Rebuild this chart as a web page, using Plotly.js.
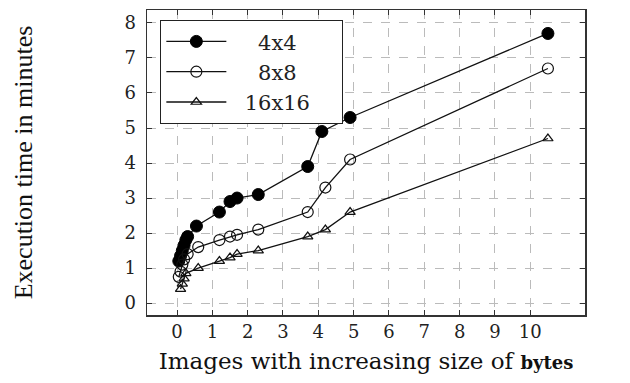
<!DOCTYPE html>
<html>
<head>
<meta charset="utf-8">
<script src="https://cdn.plot.ly/plotly-3.0.1.min.js"></script>
<style>html,body{margin:0;padding:0;background:#fff;}#chart{width:630px;height:383px;}</style>
</head>
<body>
<div id="chart"></div>
<script>
const seriesNames = ["\u00a0\u00a0\u00a0\u00a04x4", "\u00a0\u00a0\u00a0\u00a08x8", "\u00a0\u00a016x16\u00a0\u00a0\u00a0\u00a0"];
const x4 = [0.05, 0.1, 0.15, 0.2, 0.25, 0.3, 0.55, 1.2, 1.5, 1.7, 2.3, 3.7, 4.1, 4.9, 10.5];
const y4 = [1.2, 1.35, 1.5, 1.65, 1.8, 1.9, 2.2, 2.6, 2.9, 3.0, 3.1, 3.9, 4.9, 5.3, 7.7];
const x8 = [0.05, 0.1, 0.15, 0.2, 0.3, 0.6, 1.2, 1.5, 1.7, 2.3, 3.7, 4.2, 4.9, 10.5];
const y8 = [0.75, 0.9, 1.1, 1.25, 1.4, 1.6, 1.8, 1.9, 1.95, 2.1, 2.6, 3.3, 4.1, 6.7];
const x16 = [0.1, 0.15, 0.2, 0.25, 0.6, 1.2, 1.5, 1.7, 2.3, 3.7, 4.2, 4.9, 10.5];
const y16 = [0.4, 0.55, 0.7, 0.85, 1.0, 1.2, 1.3, 1.4, 1.5, 1.9, 2.1, 2.6, 4.7];
const xTicks = [0, 1, 2, 3, 4, 5, 6, 7, 8, 9, 10];
const yTicks = [0, 1, 2, 3, 4, 5, 6, 7, 8];

const lineStyle = {color: "#111", width: 1.3};
const traces = [
  {x: x4, y: y4, name: seriesNames[0], mode: "lines+markers", line: lineStyle,
   marker: {symbol: "circle", size: 12, color: "#000", line: {color: "#000", width: 1}}},
  {x: x8, y: y8, name: seriesNames[1], mode: "lines+markers", line: lineStyle,
   marker: {symbol: "circle-open", size: 11, color: "#111", line: {color: "#111", width: 1.2}}},
  {x: x16, y: y16, name: seriesNames[2], mode: "lines+markers", line: lineStyle,
   marker: {symbol: "triangle-up-open", size: 9, color: "#111", line: {color: "#111", width: 1.2}}}
];

const axisCommon = {
  showline: true, linecolor: "#333", linewidth: 1.5, mirror: "ticks",
  ticks: "inside", ticklen: 5, tickcolor: "#333", tickwidth: 1,
  showgrid: true, gridcolor: "#bbb", griddash: "dash", gridwidth: 1,
  zeroline: false,
  tickfont: {family: "DejaVu Serif", size: 18, color: "#222"}
};

const layout = {
  width: 630, height: 383,
  margin: {l: 147, r: 45, t: 10, b: 68},
  paper_bgcolor: "#fff", plot_bgcolor: "#fff",
  showlegend: true,
  legend: {
    x: 0.03, y: 0.967, xanchor: "left", yanchor: "top",
    bordercolor: "#222", borderwidth: 1.2, bgcolor: "#fff",
    font: {family: "DejaVu Serif", size: 21, color: "#222"},
    itemwidth: 60, tracegroupgap: 0
  },
  xaxis: Object.assign({}, axisCommon, {
    range: [-0.85, 11.55], tickvals: xTicks, ticktext: xTicks.map(String),
    title: {text: "Images with increasing size of <b><span style='font-size:18px'>bytes</span></b>",
            font: {family: "DejaVu Serif", size: 23, color: "#111"}, standoff: 12}
  }),
  yaxis: Object.assign({}, axisCommon, {
    range: [-0.34, 8.37], tickvals: yTicks, ticktext: yTicks.map(String),
    ticklabelstandoff: 6,
    title: {text: "Execution time in minutes",
            font: {family: "Liberation Serif", size: 26, color: "#111"}, standoff: 84}
  })
};

Plotly.newPlot("chart", traces, layout, {displayModeBar: false, staticPlot: true});
</script>
</body>
</html>
